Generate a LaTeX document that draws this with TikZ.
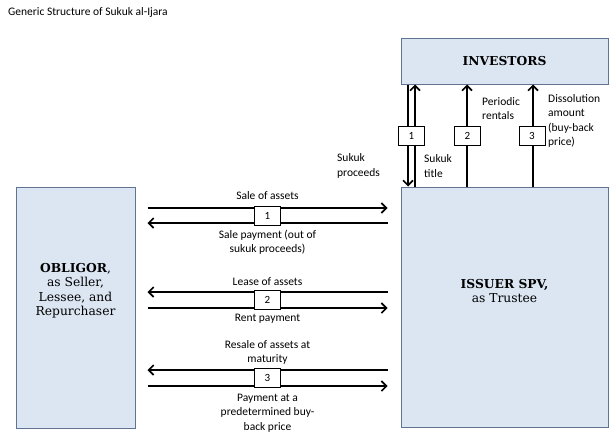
\documentclass[tikz,border=0pt]{standalone}
\usepackage{fontspec}
\setmainfont{DejaVu Serif}
\newfontfamily\calibri{Carlito}
\usetikzlibrary{arrows.meta}
\definecolor{boxfill}{HTML}{DCE6F2}
\definecolor{boxline}{HTML}{5F7490}

\begin{document}
\begin{tikzpicture}[x=1pt, y=-1pt,
		party/.style={draw=boxline, fill=boxfill, line width=1pt, inner sep=0pt},
		partytext/.style={font=\fontsize{12.3}{14.5}\selectfont, align=center, inner sep=0pt},
		numbox/.style={draw, fill=white, line width=0.8pt, minimum width=26pt, minimum height=19pt, inner sep=0pt, font=\calibri\fontsize{11}{12}\selectfont},
		flow/.style={line width=1.6pt, -{Straight Barb[length=5pt, width=10pt]}},
		txt/.style={font=\calibri\fontsize{11.5}{14.5}\selectfont, align=center, inner sep=0pt}]
		\useasboundingbox (0, 0) rectangle (612, 447);
		\node[txt, anchor=west] (title) at (8, 12.5) {Generic Structure of Sukuk al-Ijara};

		% the three parties
		\node[party, minimum width=207pt, minimum height=46pt] (investors) at (504.5, 61) {};
		\node[partytext] (investorstext) at (investors.center) {\textbf{INVESTORS}};
		\node[party, minimum width=207pt, minimum height=240pt] (issuer) at (504.5, 307) {};
		\node[partytext] (issuertext) at ([yshift=16pt]issuer.center) {\textbf{ISSUER SPV,}\\as Trustee};
		\node[party, minimum width=119pt, minimum height=241pt] (obligor) at (75.5, 307.5) {};
		\node[partytext] (obligortext) at ([yshift=17pt]obligor.center) {\textbf{OBLIGOR},\\as Seller,\\Lessee, and\\Repurchaser};

		% investors <-> issuer
		\draw[flow] (408, 0 |- investors.south) -- (408, 0 |- issuer.north);
		\foreach \x in {415, 467, 533} {
			\draw[flow] (\x, 0 |- issuer.north) -- (\x, 0 |- investors.south);
		}
		\foreach \x/\n in {411.5/1, 467.5/2, 532/3} {
			\node[numbox] (v\n) at (\x, 136) {\n};
		}
		\node[txt, align=left, anchor=west] (proceeds) at (337, 166) {Sukuk\\proceeds};
		\node[txt, align=left, anchor=west] (titlelabel) at (424, 166) {Sukuk\\title};
		\node[txt, align=left, anchor=west] (rentals) at (482, 108.5) {Periodic\\rentals};
		\node[txt, align=left, anchor=west] (dissolution) at (548, 121) {Dissolution\\amount\\(buy-back\\price)};

		% obligor <-> issuer
		\draw[flow, shorten <=12pt, shorten >=13pt] ([yshift=8pt]obligor.east |- 0, 216) -- ([yshift=8pt]issuer.west |- 0, 216);
		\draw[flow, shorten <=13pt, shorten >=12pt] ([yshift=-7pt]issuer.west |- 0, 216) -- ([yshift=-7pt]obligor.east |- 0, 216);
		\foreach \y in {300, 378} {
			\draw[flow, shorten <=13pt, shorten >=12pt] ([yshift=8pt]issuer.west |- 0, \y) -- ([yshift=8pt]obligor.east |- 0, \y);
			\draw[flow, shorten <=12pt, shorten >=13pt] ([yshift=-8pt]obligor.east |- 0, \y) -- ([yshift=-8pt]issuer.west |- 0, \y);
		}
		\foreach \y/\n in {216/1, 300/2, 378/3} {
			\node[numbox] (h\n) at (267.5, \y) {\n};
		}
		\node[txt] (sale) at (267.5, 196) {Sale of assets};
		\node[txt] (salepay) at (267.5, 242) {Sale payment (out of\\sukuk proceeds)};
		\node[txt] (lease) at (267.5, 282) {Lease of assets};
		\node[txt] (rent) at (267.5, 319) {Rent payment};
		\node[txt] (resale) at (267.5, 352.5) {Resale of assets at\\maturity};
		\node[txt] (buyback) at (267.5, 413) {Payment at a\\predetermined buy-\\back price};
	\end{tikzpicture}
\end{document}
